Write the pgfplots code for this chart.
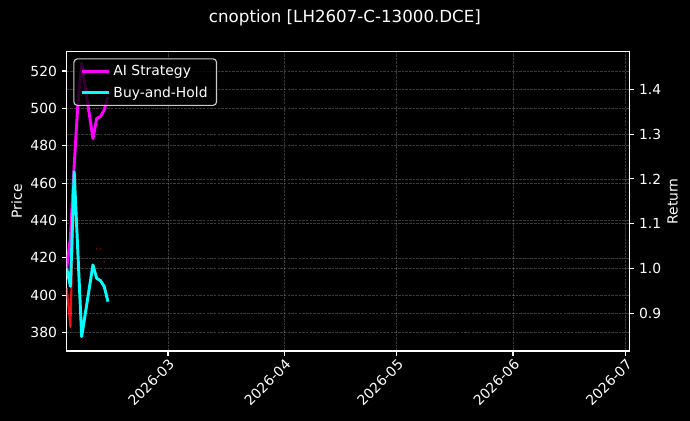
\documentclass[border=0pt]{standalone}
\usepackage{pgfplots}
\pgfplotsset{compat=1.18}
\usepackage{fontspec}
\setmainfont{DejaVu Sans}

\definecolor{aimag}{RGB}{255,0,255}
\definecolor{bhcyan}{RGB}{0,255,255}
\definecolor{pricered}{RGB}{230,20,20}
\definecolor{legedge}{RGB}{204,204,204}
\definecolor{dotred}{RGB}{110,0,0}

\pgfplotsset{
  chartbase/.style={
    scale only axis, width=406.6pt, height=216.3pt,
    at={(0pt,0pt)}, anchor=south west,
    xmin=-27, xmax=123,
    axis line style={white, line width=0.8bp},
    tick style={white, line width=0.8bp},
    tick align=outside, major tick length=3.5bp,
    tick label style={font=\fontsize{10bp}{12bp}\selectfont, text=white},
    /pgf/number format/assume math mode=true,
    grid style={white, opacity=0.22, line width=0.5bp, dash pattern=on 1.85bp off 0.8bp},
  },
}

% days counted from 2026-03-01
\pgfplotstableread{
day price
-27 404
-26 383
-25 466.1
-24 422.0
-23 377.9
-20 416.3
-19 409.1
-18 407.9
-17 404.8
-16 396.8
}\pricedata

\pgfplotstableread{
day ai bh
-27 1.000 1.000
-26 1.070 0.960
-25 1.230 1.216
-24 1.370 1.032
-23 1.458 0.848
-20 1.290 1.008
-19 1.335 0.978
-18 1.339 0.973
-17 1.354 0.960
-16 1.383 0.926
}\retdata

\begin{document}
\begin{tikzpicture}
\fill[black] (-48.20pt,-50.59pt) rectangle (450.46pt,253.67pt);

\begin{axis}[
    chartbase,
    ymin=370.2, ymax=530.3,
    ytick={380,400,...,520},
    xtick={0,31,61,92,122},
    xticklabels={2026-03,2026-04,2026-05,2026-06,2026-07},
    xticklabel style={rotate=45, anchor=north east, inner sep=1pt},
    xtick pos=lower, ytick pos=left,
    xmajorgrids, ymajorgrids,
    ylabel={Price},
    every axis y label/.style={at={([xshift=-36.1pt]rel axis cs:0,0.5)}, rotate=90, anchor=center,
        font=\fontsize{10bp}{12bp}\selectfont, text=white},
]
\addplot[pricered, line width=1.5bp, line join=round] table[x=day, y=price] {\pricedata};
\addplot[only marks, mark=*, mark size=0.5pt, dotred] coordinates {(-19,424.8)(-18,424.8)(-17,417.7)};
\end{axis}

\begin{axis}[
    chartbase,
    ymin=0.8158, ymax=1.4839,
    ytick={0.9,1.0,1.1,1.2,1.3,1.4},
    yticklabel style={/pgf/number format/.cd, fixed, fixed zerofill, precision=1},
    axis x line=none, axis y line*=right,
    ymajorgrids,
    ylabel={Return},
    every axis y label/.style={at={([xshift=31.4pt]rel axis cs:1,0.5)}, rotate=90, anchor=center,
        font=\fontsize{10bp}{12bp}\selectfont, text=white},
    title={cnoption [LH2607-C-13000.DCE]},
    title style={at={(0.5,1)}, anchor=base, yshift=14.8pt, xshift=-2.2pt,
        font=\fontsize{12bp}{14bp}\selectfont, text=white},
    legend style={at={(0,1)}, anchor=north west, xshift=4.8pt, yshift=-4.8pt,
        fill=black, fill opacity=0.8, text opacity=1, draw=legedge, draw opacity=1,
        rounded corners=2.5pt, line width=0.8bp,
        font=\fontsize{10bp}{12bp}\selectfont, text=white,
        inner xsep=4.5pt, inner ysep=2.5pt, row sep=2.5pt, nodes={inner sep=2pt}},
    legend cell align=left,
    legend image code/.code={\draw[#1] (0pt,0pt) -- (20pt,0pt);},
]
\addplot[aimag, line width=2.1bp, line join=round] table[x=day, y=ai] {\retdata};
\addlegendentry{AI Strategy}
\addplot[bhcyan, line width=2.1bp, line join=round] table[x=day, y=bh] {\retdata};
\addlegendentry{Buy-and-Hold}
\end{axis}

\pgfresetboundingbox
\path[use as bounding box] (-48.20pt,-50.59pt) rectangle (450.46pt,253.67pt);
\end{tikzpicture}
\end{document}
